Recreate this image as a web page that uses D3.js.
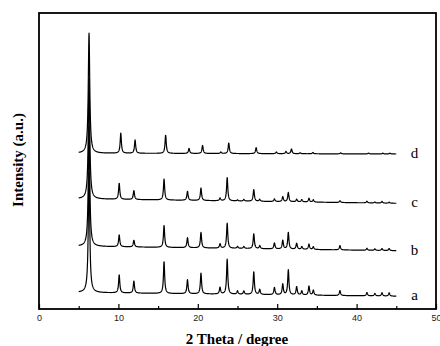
<!DOCTYPE html>
<html>
<head>
<meta charset="utf-8">
<script src="https://cdn.jsdelivr.net/npm/d3@7"></script>
<style>
  body { margin: 0; background: #fff; }
  svg { display: block; }
  .trace { fill: none; stroke: #000; stroke-width: 1.2; stroke-linejoin: round; }
  .frame { fill: none; stroke: #000; stroke-width: 1.8; }
  .tick text { font-family: "Liberation Sans", Arial, sans-serif; font-size: 9px; fill: #222; }
  .tick line { stroke: #000; stroke-width: 1.2; }
  .label { font-family: "Liberation Serif", "Times New Roman", serif; font-size: 15px; }
  .title { font-family: "Liberation Serif", "Times New Roman", serif; font-size: 15px; font-weight: bold; }
</style>
</head>
<body>
<div id="chart"></div>
<script>
// sample names, bottom to top
const samples = ['a', 'b', 'c', 'd'];

// peak positions (2 theta, degree)
const positionsABC = [6.3, 10.1, 11.95, 15.75, 18.7, 20.4, 22.8, 23.7, 25.0, 25.8, 27.05, 27.8,
  29.65, 30.7, 31.4, 32.45, 33.1, 34.0, 34.55, 37.9, 41.3, 42.3, 43.2, 44.1];
const positionsD = [6.3, 10.3, 12.1, 15.95, 18.9, 20.6, 22.9, 23.9, 27.35, 29.9, 31.1, 31.8,
  32.9, 34.5, 38.0, 41.5, 43.3, 44.2];

// peak heights (a.u.) for each sample
const heightsA = [120, 18, 12, 32, 14, 20.7, 6.7, 35, 3.3, 3.3, 22.7, 5, 7.3, 10.7, 25, 8.3, 4, 9, 5, 5, 3.3, 2.5, 3.3, 3.3];
const heightsB = [120, 11.7, 6.7, 22, 10, 15.5, 4.3, 25, 2, 2, 15, 3, 6, 8.7, 16.7, 6, 2.7, 5.3, 2.7, 4.3, 2, 1.5, 2, 2];
const heightsC = [120, 16, 9, 21, 9, 12.5, 2.7, 23.3, 1, 1.7, 11.7, 2, 2.7, 5, 9.3, 2.7, 2.3, 3.7, 2.3, 1.7, 1.7, 1, 1.7, 1];
const heightsD = [120, 20, 13.3, 18.3, 5, 8, 1.5, 10.5, 6, 1.7, 2.3, 4.7, 1, 1.3, 1, 0.8, 0.8, 0.8];

// background level at 5 and 45 degree (stacked offsets)
const bgStart = [16.5, 62.8, 110.2, 155.8];
const bgEnd = [12.8, 58.3, 105.7, 155];

const xTicks = [0, 10, 20, 30, 40, 50];
const xMinorTicks = [5, 15, 25, 35, 45];

const width = 440, height = 346;
const margin = { top: 13, right: 4, bottom: 37, left: 39 };

const svg = d3.select('#chart').append('svg')
  .attr('width', width)
  .attr('height', height);

const x = d3.scaleLinear().domain([0, 50]).range([margin.left, width - margin.right]);
const y = d3.scaleLinear().domain([0, 296]).range([height - margin.bottom, margin.top]);

const peakSets = [
  { pos: positionsABC, h: heightsA },
  { pos: positionsABC, h: heightsB },
  { pos: positionsABC, h: heightsC },
  { pos: positionsD, h: heightsD }
];

// lorentzian profile for each peak
function profile(set, i, t) {
  let v = bgStart[i] + (bgEnd[i] - bgStart[i]) * (t - 5) / 40;
  set.pos.forEach((p, k) => {
    const w = k === 0 ? 0.11 : 0.09;
    const d = t - p;
    v += set.h[k] * w * w / (w * w + d * d);
  });
  return v;
}

const grid = d3.range(5, 45.001, 0.02);

const line = d3.line()
  .x(d => x(d[0]))
  .y(d => y(d[1]));

peakSets.forEach((set, i) => {
  const pts = grid.map(t => [t, profile(set, i, t)]);
  svg.append('path')
    .attr('class', 'trace')
    .attr('d', line(pts));

  svg.append('text')
    .attr('class', 'label')
    .attr('x', x(47.3))
    .attr('y', y(bgEnd[i]) + 4)
    .attr('text-anchor', 'middle')
    .text(samples[i]);
});

// frame
svg.append('rect')
  .attr('class', 'frame')
  .attr('x', margin.left)
  .attr('y', margin.top)
  .attr('width', width - margin.right - margin.left)
  .attr('height', height - margin.bottom - margin.top);

// bottom axis, ticks inside
const xAxis = svg.append('g')
  .attr('transform', `translate(0,${height - margin.bottom})`)
  .call(d3.axisBottom(x).tickValues(xTicks).tickSize(-5).tickPadding(6));
xAxis.select('.domain').remove();

svg.append('g')
  .attr('transform', `translate(0,${height - margin.bottom})`)
  .call(d3.axisBottom(x).tickValues(xMinorTicks).tickSize(-3).tickFormat(''))
  .select('.domain').remove();

svg.append('text')
  .attr('class', 'title')
  .attr('x', 237)
  .attr('y', 344)
  .attr('text-anchor', 'middle')
  .text('2 Theta / degree');

svg.append('text')
  .attr('class', 'title')
  .attr('transform', 'translate(23,160) rotate(-90)')
  .attr('text-anchor', 'middle')
  .text('Intensity (a.u.)');
</script>
</body>
</html>
